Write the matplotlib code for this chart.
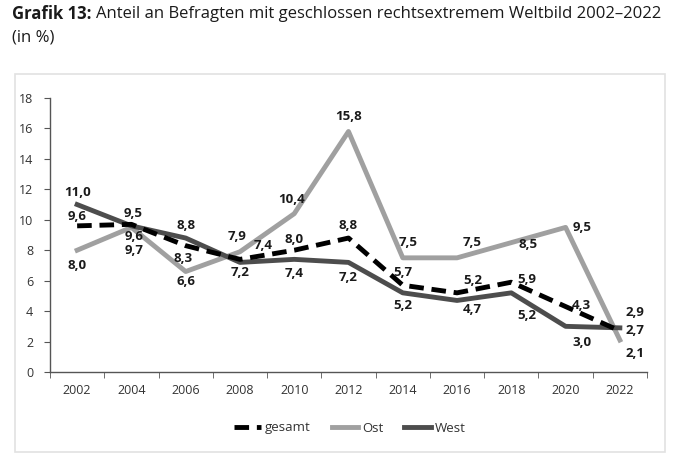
import matplotlib.pyplot as plt
from matplotlib.patches import Rectangle

years = ['2002', '2004', '2006', '2008', '2010', '2012', '2014', '2016', '2018', '2020', '2022']
gesamt = [9.6, 9.7, 8.3, 7.4, 8.0, 8.8, 5.7, 5.2, 5.9, 4.3, 2.7]
ost = [8.0, 9.5, 6.6, 7.9, 10.4, 15.8, 7.5, 7.5, 8.5, 9.5, 2.1]
west = [11.0, 9.6, 8.8, 7.2, 7.4, 7.2, 5.2, 4.7, 5.2, 3.0, 2.9]

# label offsets in points (dx, dy) per point
off_gesamt = [(0, 6.5), (2, -19), (-2, -9), (17, 10), (0, 8), (0, 9), (0, 9), (11, 9), (11, 2), (11, 1), (11, 0)]
off_ost = [(0, -11), (1, 10), (0, -7.5), (-2, 11), (-2, 10), (0, 11), (4, 11), (11, 11), (12, -1), (12, 0), (11, -10)]
off_west = [(0, 9), (2, -8), (0, 9), (0, -7), (0, -10), (0, -11), (0, -9), (11, -6.5), (11, -16), (12, -11.5), (11, 11)]

plt.rcParams['font.family'] = ['Open Sans', 'DejaVu Sans']

fig = plt.figure(figsize=(6.8, 4.62), dpi=100)
ax = fig.add_axes([50 / 680, 1 - 372 / 462, 597 / 680, 274 / 462])

# light frame around the chart
fig.patches.append(Rectangle((15 / 680, 1 - 452 / 462), 650 / 680, 378 / 462,
                             transform=fig.transFigure, fill=False,
                             edgecolor='#e2e2e2', lw=1.2))

x = list(range(len(years)))
ax.plot(x, gesamt, color='black', lw=3.5, ls=(0, (3, 1.6)), label='gesamt', zorder=4)
ax.plot(x, ost, color='#a0a0a0', lw=3.5, label='Ost', zorder=2)
ax.plot(x, west, color='#4d4d4d', lw=3.5, label='West', zorder=3)

for vals, offs in [(gesamt, off_gesamt), (ost, off_ost), (west, off_west)]:
    for i, v in enumerate(vals):
        ax.annotate(f'{v:.1f}'.replace('.', ','), (i, v), xytext=offs[i],
                    textcoords='offset points', ha='center', va='center',
                    fontsize=9.5, fontweight='bold', color='#1a1a1a', zorder=6)

ax.set_xlim(-0.5, 10.5)
ax.set_ylim(0, 18)
ax.set_yticks(range(0, 19, 2))
ax.set_xticks(x)
ax.set_xticklabels(years)
ax.set_xticks([i - 0.5 for i in range(12)], minor=True)
ax.tick_params(axis='x', which='major', length=0, pad=9, labelsize=9, labelcolor='#333333')
ax.tick_params(axis='x', which='minor', length=4, direction='out', color='#555555')
ax.tick_params(axis='y', length=4, direction='out', color='#555555', labelsize=9,
               labelcolor='#333333', pad=8)
for s in ['top', 'right']:
    ax.spines[s].set_visible(False)
for s in ['left', 'bottom']:
    ax.spines[s].set_color('#555555')
    ax.spines[s].set_linewidth(1)

fig.legend(loc='center', bbox_to_anchor=(350 / 680, 1 - 428 / 462), ncol=3,
           frameon=False, fontsize=9.5, handlelength=2.0, handletextpad=0.3,
           columnspacing=1.6, labelcolor='#333333')

# title: bold prefix followed by regular text
t = fig.text(12 / 680, 1 - 14 / 462, 'Grafik 13:', fontsize=12, fontweight='bold',
             va='center', ha='left', color='#1a1a1a')
fig.canvas.draw()
bb = t.get_window_extent()
fig.text((bb.x1 + 4) / 680, 1 - 14 / 462,
         'Anteil an Befragten mit geschlossen rechtsextremem Weltbild 2002–2022',
         fontsize=12, va='center', ha='left', color='#1a1a1a')
fig.text(12 / 680, 1 - 38 / 462, '(in %)', fontsize=12, va='center', ha='left', color='#1a1a1a')

fig.savefig('out.png', dpi=100)
